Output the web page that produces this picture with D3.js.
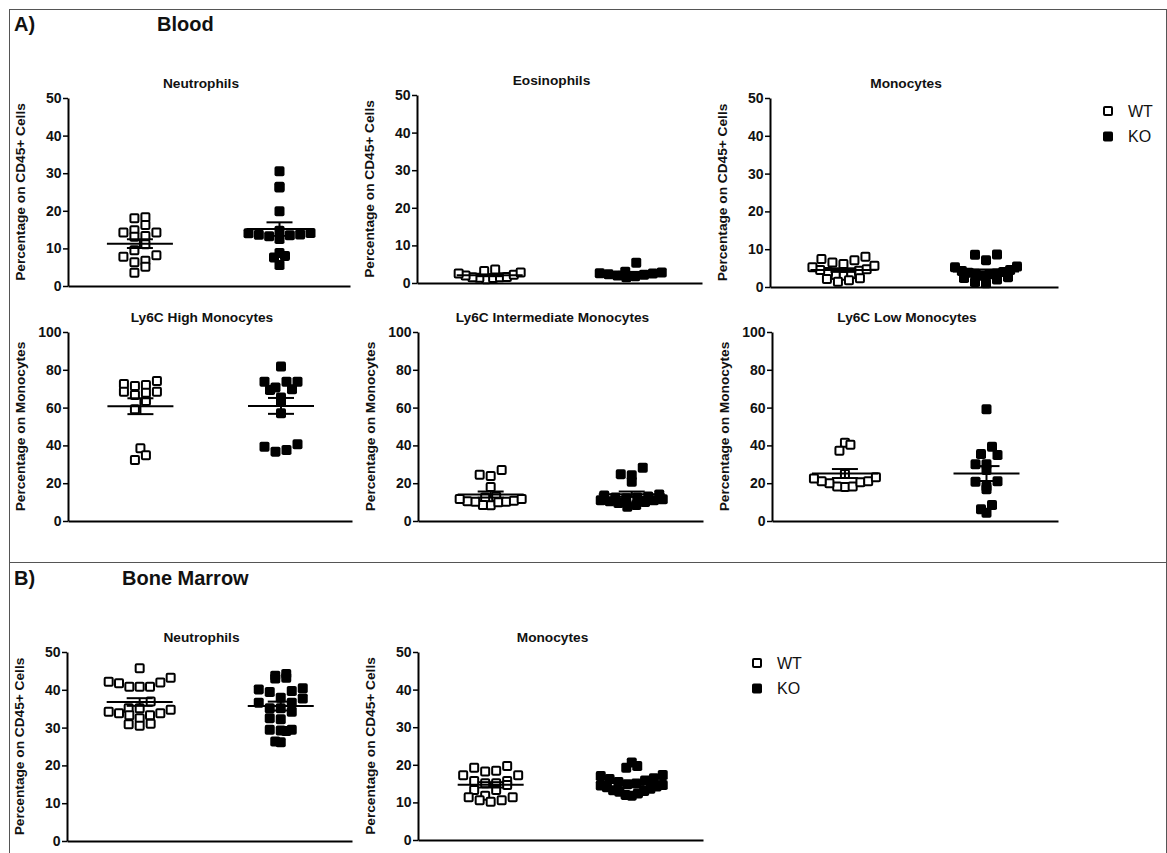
<!DOCTYPE html>
<html><head><meta charset="utf-8">
<script src="https://cdn.jsdelivr.net/npm/d3@7"></script>
<style>
body{margin:0;background:#fff}
svg{display:block}
text{font-family:"Liberation Sans",Arial,sans-serif;fill:#111}
</style>
</head><body>
<svg id="c" width="1167" height="853"></svg>
<script>
// ---------------- DATA ----------------
const groups = ["WT", "KO"];
const ticks50 = [0, 10, 20, 30, 40, 50];
const ticks100 = [0, 20, 40, 60, 80, 100];

const bloodNeutWT = [18.0, 18.3, 16.2, 14.2, 14.2, 14.8, 13.3, 13.1, 11.1, 9.5, 7.8, 8.2, 6.3, 6.7, 5.1, 3.5];
const bloodNeutKO = [30.5, 26.2, 26.4, 19.9, 14.7, 13.6, 14.0, 13.2, 13.5, 13.7, 14.1, 12.5, 8.0, 7.6, 8.8, 5.6];
const bloodEosWT = [1.5, 3.2, 2.2, 1.3, 2.0, 1.0, 1.6, 2.5, 1.4, 3.6, 1.5, 2.8];
const bloodEosKO = [5.4, 2.6, 2.0, 1.8, 2.3, 2.8, 3.0, 1.5, 2.2, 2.5];
const bloodMonoWT = [7.1, 6.1, 5.2, 8.0, 5.6, 6.5, 7.4, 4.3, 4.5, 4.7, 3.2, 3.4, 2.1, 2.3, 1.4, 1.8, 4.0, 3.0];
const bloodMonoKO = [8.6, 8.5, 7.1, 5.2, 5.4, 3.8, 3.5, 4.0, 3.6, 4.2, 3.4, 2.4, 2.6, 1.3, 1.0, 3.0, 2.0, 4.5];
const ly6cHighWT = [72.5, 71.4, 74.1, 68.4, 67.9, 68.4, 72.0, 66.7, 63.5, 59.1, 38.5, 32.3, 34.8];
const ly6cHighKO = [81.7, 69.7, 73.7, 73.7, 73.7, 69.3, 70.7, 65.4, 63.5, 57.0, 39.3, 40.6, 36.7, 37.6];
const ly6cIntWT = [24.5, 23.8, 27.0, 18.0, 12.5, 11.6, 10.7, 10.2, 9.9, 8.5, 8.3, 10.2, 10.4, 11.6, 12.8];
const ly6cIntKO = [28.2, 24.8, 24.2, 20.8, 14.0, 13.5, 13.0, 12.5, 12.0, 11.5, 11.0, 10.5, 10.0, 9.5, 8.5, 7.5, 12.5, 11.0];
const ly6cLowWT = [41.4, 40.4, 37.2, 24.9, 23.2, 21.0, 20.5, 18.2, 18.0, 18.2, 20.0, 21.0, 22.5];
const ly6cLowKO = [59.1, 39.3, 35.4, 34.9, 30.0, 30.0, 27.0, 21.0, 20.8, 18.2, 16.8, 8.5, 6.2, 4.4];
const bmNeutWT = [45.7, 43.2, 41.9, 40.8, 40.8, 40.8, 41.7, 42.1, 36.9, 35.1, 33.8, 35.1, 33.8, 34.7, 33.3, 33.3, 32.5, 30.9, 30.5, 31.0, 34.2];
const bmNeutKO = [43.7, 43.0, 43.2, 44.2, 40.4, 39.4, 39.7, 40.1, 36.6, 37.9, 37.7, 36.6, 35.1, 34.2, 35.1, 32.5, 32.2, 29.4, 29.2, 29.4, 29.1, 26.3, 26.1];
const bmMonoWT = [17.2, 19.2, 18.2, 18.4, 19.7, 17.2, 15.7, 15.1, 14.6, 15.1, 15.7, 13.3, 13.3, 11.4, 10.6, 10.2, 10.6, 11.4, 11.8];
const bmMonoKO = [20.6, 19.2, 19.7, 17.3, 17.0, 16.2, 15.8, 15.0, 14.8, 14.5, 14.2, 14.0, 13.6, 13.2, 13.0, 12.8, 12.4, 12.0, 11.8, 14.6, 15.4, 16.4];

const panelTitles = ["Neutrophils", "Eosinophils", "Monocytes", "Ly6C High Monocytes",
  "Ly6C Intermediate Monocytes", "Ly6C Low Monocytes", "Neutrophils", "Monocytes"];
const yLabels = ["Percentage on CD45+ Cells", "Percentage on CD45+ Cells", "Percentage on CD45+ Cells",
  "Percentage on Monocytes", "Percentage on Monocytes", "Percentage on Monocytes",
  "Percentage on CD45+ Cells", "Percentage on CD45+ Cells"];
const panelTicks = [ticks50, ticks50, ticks50, ticks100, ticks100, ticks100, ticks50, ticks50];
const panelData = [
  [bloodNeutWT, bloodNeutKO], [bloodEosWT, bloodEosKO], [bloodMonoWT, bloodMonoKO],
  [ly6cHighWT, ly6cHighKO], [ly6cIntWT, ly6cIntKO], [ly6cLowWT, ly6cLowKO],
  [bmNeutWT, bmNeutKO], [bmMonoWT, bmMonoKO]
];
const sectionLabels = ["A)", "B)"];
const sectionTitles = ["Blood", "Bone Marrow"];

// ---------------- LAYOUT ----------------
const layout = [
  {x0: 68, x1: 350, yT: 98, yB: 286},
  {x0: 417, x1: 702, yT: 95, yB: 283},
  {x0: 770, x1: 1058, yT: 98, yB: 287},
  {x0: 68, x1: 352, yT: 332, yB: 521},
  {x0: 418, x1: 703, yT: 332, yB: 521},
  {x0: 772, x1: 1058, yT: 332, yB: 521},
  {x0: 67, x1: 352, yT: 652, yB: 841},
  {x0: 418, x1: 703, yT: 652, yB: 840}
];
const MS = 10;          // marker size
const STEP = 11;        // horizontal spacing inside a row
const MAXW = 62;        // max centre-to-centre spread of a row
const BH = 11;          // row height (px) for grouping points
const MEANW = 66, CAPW = 26;
const FONT = '"Liberation Sans",Arial,sans-serif';

const svg = d3.select("#c");

// frames
svg.append("rect").attr("x", 9.5).attr("y", 9.5).attr("width", 1157).attr("height", 553)
  .attr("fill", "none").attr("stroke", "#555").attr("stroke-width", 1);
svg.append("rect").attr("x", 9.5).attr("y", 562.5).attr("width", 1157).attr("height", 300)
  .attr("fill", "none").attr("stroke", "#555").attr("stroke-width", 1);

// section headings
const secY = [24, 578];
const secTitleX = [157, 122];
sectionLabels.forEach((s, i) => {
  svg.append("text").attr("x", 14).attr("y", secY[i]).attr("dy", "0.35em")
    .attr("font-size", 20).attr("font-weight", "bold").text(s);
  svg.append("text").attr("x", secTitleX[i]).attr("y", secY[i]).attr("dy", "0.35em")
    .attr("font-size", 20).attr("font-weight", "bold").text(sectionTitles[i]);
});

// column-scatter layout: points grouped into horizontal rows, lowest values in the middle
function swarm(values, y, yB) {
  const items = values.map((v, i) => ({v, i, y: y(v)}));
  const bins = d3.group(items, d => Math.floor((yB - d.y) / BH));
  const out = [];
  bins.forEach(arr => {
    arr.sort((a, b) => a.v - b.v);
    const n = arr.length;
    const step = n > 1 ? Math.min(STEP, MAXW / (n - 1)) : 0;
    const slots = d3.range(n).map(k => (k - (n - 1) / 2) * step)
      .sort((a, b) => Math.abs(a) - Math.abs(b) || a - b);
    arr.forEach((d, j) => out.push({v: d.v, y: d.y, dx: slots[j]}));
  });
  return out;
}

function drawMarker(g, cx, cy, gi) {
  if (gi === 0) {
    g.append("rect").attr("x", cx - MS / 2 + 1).attr("y", cy - MS / 2 + 1)
      .attr("width", MS - 2).attr("height", MS - 2).attr("rx", 1)
      .attr("fill", "#fff").attr("stroke", "#000").attr("stroke-width", 2);
  } else {
    g.append("rect").attr("x", cx - MS / 2).attr("y", cy - MS / 2)
      .attr("width", MS).attr("height", MS).attr("rx", 1.8)
      .attr("fill", "#000");
  }
}

panelData.forEach((pd, pi) => {
  const L = layout[pi];
  const ticks = panelTicks[pi];
  const y = d3.scaleLinear().domain([0, d3.max(ticks)]).range([L.yB, L.yT]);
  const w = L.x1 - L.x0;
  const x = d3.scalePoint().domain(groups).range([L.x0 + 0.255 * w, L.x0 + 0.75 * w]);
  const g = svg.append("g");

  // y axis
  const ya = g.append("g").attr("transform", `translate(${L.x0},0)`)
    .call(d3.axisLeft(y).tickValues(ticks).tickSize(5).tickSizeOuter(0).tickPadding(1.5));
  ya.select(".domain").attr("stroke", "#000").attr("stroke-width", 2);
  ya.selectAll(".tick line").attr("stroke", "#000").attr("stroke-width", 1.5);
  ya.selectAll(".tick text").attr("font-size", 14).attr("font-weight", "bold")
    .attr("fill", "#111").style("font-family", FONT);

  // x axis (no ticks)
  const xs = d3.scaleLinear().range([L.x0, L.x1]);
  const xa = g.append("g").attr("transform", `translate(0,${L.yB})`)
    .call(d3.axisBottom(xs).tickValues([]).tickSizeOuter(0));
  xa.select(".domain").attr("stroke", "#000").attr("stroke-width", 2);

  // title
  g.append("text").attr("x", (L.x0 + L.x1) / 2 - 8).attr("y", L.yT - 10)
    .attr("text-anchor", "middle").attr("font-size", 13.7).attr("font-weight", "bold")
    .text(panelTitles[pi]);
  // y label
  g.append("text")
    .attr("transform", `translate(${L.x0 - 47.5},${(L.yT + L.yB) / 2}) rotate(-90)`)
    .attr("text-anchor", "middle").attr("dy", "0.35em")
    .attr("font-size", 13.7).attr("font-weight", "bold")
    .text(yLabels[pi]);

  // points + mean/SEM
  pd.forEach((vals, gi) => {
    const cx = x(groups[gi]);
    const pts = swarm(vals, y, L.yB);
    const pg = g.append("g");
    pts.forEach(p => drawMarker(pg, cx + p.dx, p.y, gi));
    const mean = d3.mean(vals);
    const sem = d3.deviation(vals) / Math.sqrt(vals.length);
    const lg = g.append("g").attr("stroke", "#000").attr("stroke-width", 2);
    lg.append("line").attr("x1", cx - MEANW / 2).attr("x2", cx + MEANW / 2)
      .attr("y1", y(mean)).attr("y2", y(mean));
    lg.append("line").attr("x1", cx).attr("x2", cx)
      .attr("y1", y(mean + sem)).attr("y2", y(mean - sem));
    [mean + sem, mean - sem].forEach(v => {
      lg.append("line").attr("x1", cx - CAPW / 2).attr("x2", cx + CAPW / 2)
        .attr("y1", y(v)).attr("y2", y(v));
    });
  });
});

// legends
const legendPos = [{x: 1108, y: 111}, {x: 757, y: 663}];
legendPos.forEach(lp => {
  groups.forEach((gname, gi) => {
    const cy = lp.y + gi * 25.5;
    drawMarker(svg, lp.x, cy, gi);
    svg.append("text").attr("x", lp.x + 20).attr("y", cy).attr("dy", "0.36em")
      .attr("font-size", 16).text(gname);
  });
});
</script>
</body></html>
